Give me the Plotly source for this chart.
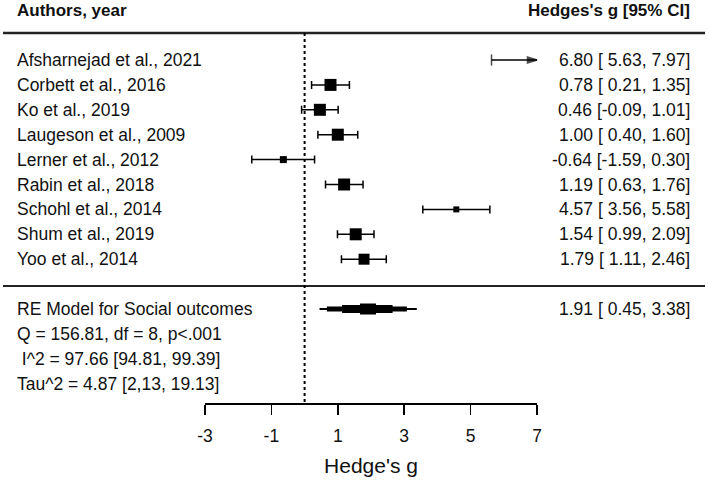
import plotly.graph_objects as go

# ---------------- data ----------------
authors = ["Afsharnejad et al., 2021", "Corbett et al., 2016", "Ko et al., 2019",
           "Laugeson et al., 2009", "Lerner et al., 2012", "Rabin et al., 2018",
           "Schohl et al., 2014", "Shum et al., 2019", "Yoo et al., 2014"]
g_est = [6.80, 0.78, 0.46, 1.00, -0.64, 1.19, 4.57, 1.54, 1.79]
ci_lo = [5.63, 0.21, -0.09, 0.40, -1.59, 0.63, 3.56, 0.99, 1.11]
ci_hi = [7.97, 1.35, 1.01, 1.60, 0.30, 1.76, 5.58, 2.09, 2.46]
weight_px = [6, 12, 12, 12, 7, 12, 6, 12, 11]

re_label = "RE Model for Social outcomes"
re_est, re_lo, re_hi = 1.91, 0.45, 3.38
re_band_lo = [0.45, 0.67, 1.13, 1.67]
re_band_hi = [3.38, 3.08, 2.65, 2.15]
re_band_width = [2, 5, 8, 11]

stats_lines = ["Q = 156.81, df = 8, p<.001",
               " I^2 = 97.66 [94.81, 99.39]",
               "Tau^2 = 4.87 [2,13, 19.13]"]

tick_vals = [-3, -1, 1, 3, 5, 7]
tick_text = ["-3", "-1", "1", "3", "5", "7"]
x_min, x_max = -3, 7
x_title = "Hedge's g"
head_left = "Authors, year"
head_right = "Hedges's g [95% CI]"

# ---------------- layout helpers ----------------
W, H = 708, 480
FONT = "Liberation Sans, Arial, sans-serif"
FS = 17.5
n = len(authors)
rows = list(range(n))
re_row = n + 1
stat_rows = [re_row + 1 + i for i in range(len(stats_lines))]
row0_px, row_step = 60, 24.9
axis_px = 403
top_row = (0 - row0_px) / row_step
bot_row = (axis_px - row0_px) / row_step

fig = go.Figure()

for i in rows:
    lo, hi, est = ci_lo[i], ci_hi[i], g_est[i]
    if hi > x_max:
        fig.add_trace(go.Scatter(
            x=[lo, x_max], y=[i, i], mode="lines+markers",
            line=dict(color="black", width=1.5),
            marker=dict(symbol=["line-ns", "arrow"], size=[8, 10], angle=[0, 90],
                        color="black", line=dict(color="black", width=1.5)),
            hoverinfo="skip", showlegend=False, cliponaxis=False))
    else:
        fig.add_trace(go.Scatter(
            x=[est], y=[i], mode="markers",
            error_x=dict(type="data", symmetric=False, array=[hi - est],
                         arrayminus=[est - lo], color="black", thickness=1.5, width=4),
            marker=dict(symbol="square", size=weight_px[i], color="black", line=dict(width=0)),
            hoverinfo="skip", showlegend=False, cliponaxis=False))

for lo, hi, w in zip(re_band_lo, re_band_hi, re_band_width):
    fig.add_trace(go.Scatter(x=[lo, hi], y=[re_row, re_row], mode="lines",
                             line=dict(color="black", width=w),
                             hoverinfo="skip", showlegend=False))

ann = []
for i, a in enumerate(authors):
    ann.append(dict(x=15 / W, xref="paper", y=i, yref="y", text=a, showarrow=False,
                    xanchor="left", yanchor="middle"))
    txt = f"{g_est[i]:.2f} [{ci_lo[i]:5.2f}, {ci_hi[i]:.2f}]".replace("[ ", "[\u00a0")
    ann.append(dict(x=692 / W, xref="paper", y=i, yref="y", text=txt, showarrow=False,
                    xanchor="right", yanchor="middle"))
ann.append(dict(x=15 / W, xref="paper", y=re_row, yref="y", text=re_label, showarrow=False,
                xanchor="left", yanchor="middle"))
ann.append(dict(x=692 / W, xref="paper", y=re_row, yref="y",
                text=f"{re_est:.2f} [{re_lo:5.2f}, {re_hi:.2f}]".replace("[ ", "[\u00a0"),
                showarrow=False, xanchor="right", yanchor="middle"))
for r, s in zip(stat_rows, stats_lines):
    ann.append(dict(x=15 / W, xref="paper", y=r, yref="y", text=s.replace(" I", "\u00a0I"),
                    showarrow=False, xanchor="left", yanchor="middle"))
ann.append(dict(x=15 / W, xref="paper", y=-2, yref="y", text=f"<b>{head_left}</b>",
                showarrow=False, xanchor="left", yanchor="middle", font=dict(size=17)))
ann.append(dict(x=692 / W, xref="paper", y=-2, yref="y", text=f"<b>{head_right}</b>",
                showarrow=False, xanchor="right", yanchor="middle", font=dict(size=17)))

top_line_row = -1.08
sep_row = 9.08
shapes = [
    dict(type="line", xref="paper", yref="y", x0=3 / W, x1=705 / W, y0=top_line_row, y1=top_line_row,
         line=dict(color="#222", width=2.5)),
    dict(type="line", xref="paper", yref="y", x0=3 / W, x1=705 / W, y0=sep_row, y1=sep_row,
         line=dict(color="#222", width=2)),
    dict(type="line", xref="x", yref="y", x0=0, x1=0, y0=top_line_row, y1=bot_row,
         line=dict(color="black", width=2, dash="dot")),
]

fig.update_layout(
    width=W, height=H, margin=dict(l=0, r=0, t=0, b=0, autoexpand=False),
    paper_bgcolor="white", plot_bgcolor="white",
    font=dict(family=FONT, size=FS, color="#111"),
    annotations=ann, shapes=shapes,
    xaxis=dict(domain=[205 / W, 537 / W], range=[x_min, x_max], tickvals=tick_vals,
               ticktext=tick_text, automargin=False,
               showline=True, linecolor="black", linewidth=1.5, ticks="outside",
               ticklen=10, tickwidth=1.5, tickcolor="black", showgrid=False, zeroline=False,
               ticklabelstandoff=6, title=dict(text=x_title, standoff=14),
               fixedrange=True),
    yaxis=dict(domain=[1 - axis_px / H, 1], range=[bot_row, top_row], visible=False,
               automargin=False, fixedrange=True),
)

fig.write_html("out.html", config={"displayModeBar": False, "staticPlot": True},
               post_script="document.body.style.margin='0';document.body.style.overflow='hidden';")
